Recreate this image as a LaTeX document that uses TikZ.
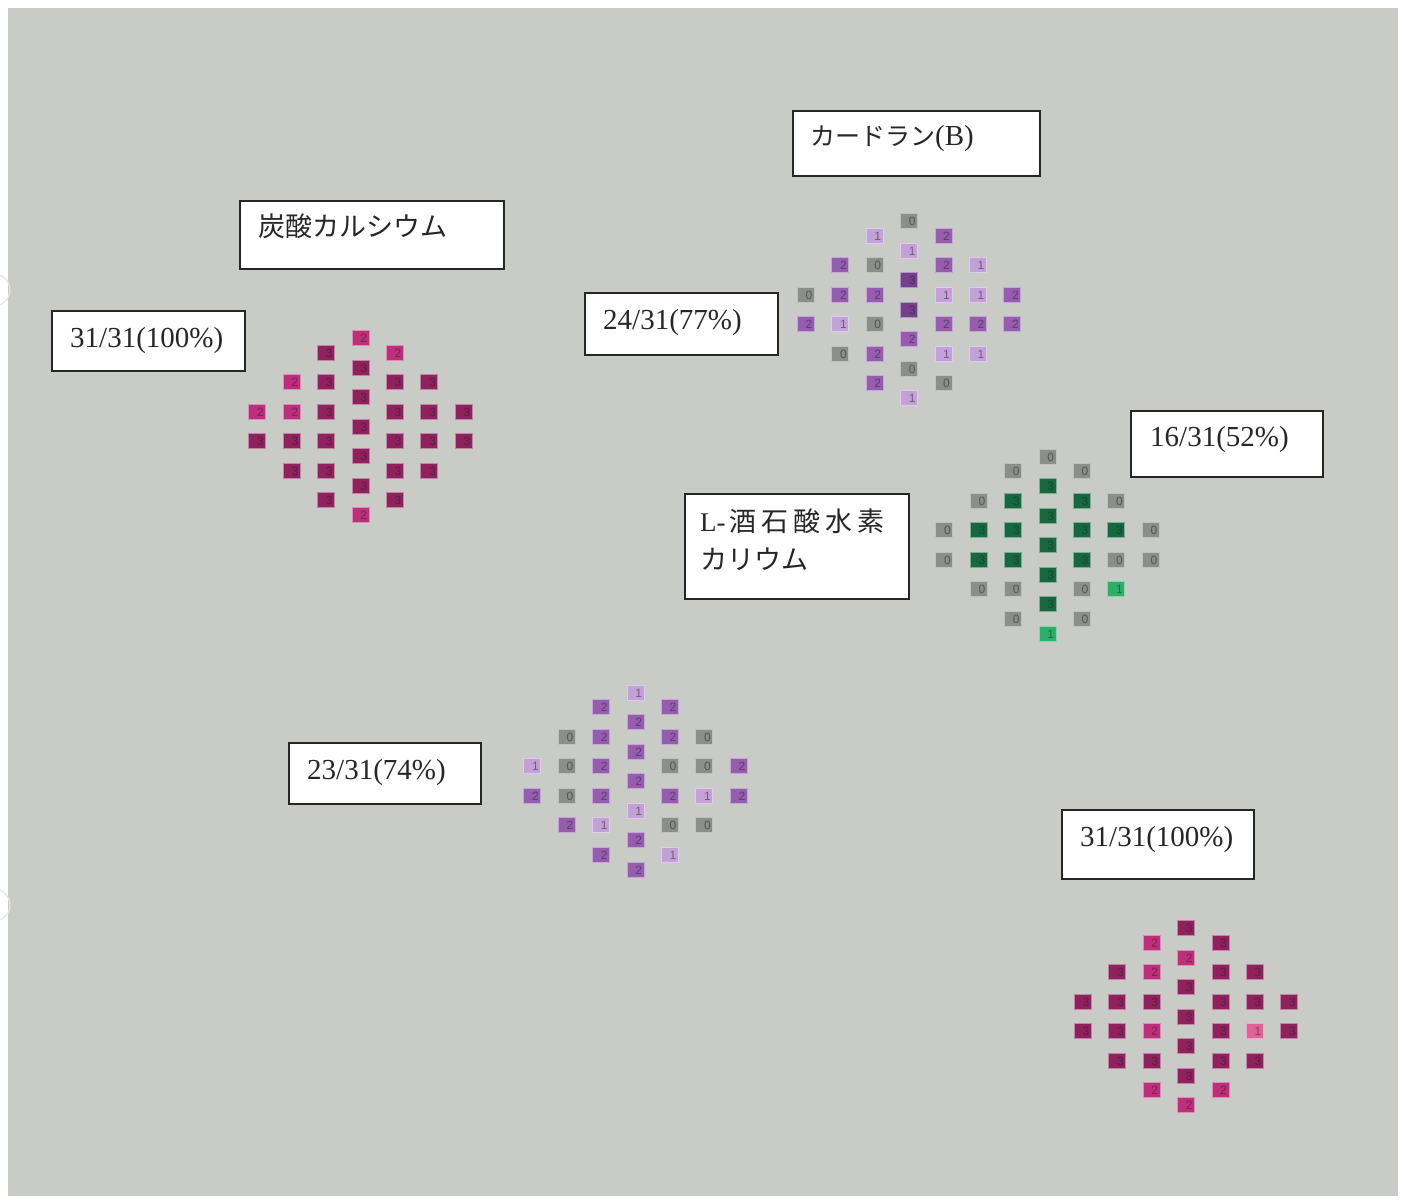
\documentclass[tikz,border=0pt]{standalone}
\usepackage{fontspec}
\setmainfont{Liberation Serif}
\newfontfamily\jp{Noto Sans CJK JP}
\newfontfamily\cellfont{Liberation Sans}
\definecolor{bg}{RGB}{201,203,199}
\definecolor{mag3}{RGB}{144,32,94}
\definecolor{mag2}{RGB}{190,46,122}
\definecolor{mag1}{RGB}{226,98,152}
\definecolor{pur3}{RGB}{118,62,140}
\definecolor{pur2}{RGB}{150,92,176}
\definecolor{pur1}{RGB}{196,160,216}
\definecolor{pur0}{RGB}{140,142,139}
\definecolor{grn3}{RGB}{22,104,62}
\definecolor{grn1}{RGB}{42,176,104}
\definecolor{grn0}{RGB}{140,142,139}
\tikzset{
  cell/.style={rectangle, fill=#1, draw=#1!55!white, line width=0.8pt,
    minimum width=17pt, minimum height=15pt, inner xsep=2pt, inner ysep=0pt,
    text width=13pt, align=right, text height=9pt, text depth=0pt,
    font=\cellfont\fontsize{12}{12}\selectfont, text=black!85, text opacity=0.55},
  lbox/.style={rectangle, draw=black!85, line width=1.8pt, fill=white, inner sep=0pt},
  ltext/.style={anchor=west, inner sep=0pt, font=\fontsize{29}{29}\selectfont, text=black!85},
}
\newcommand\cellcol[7]{%
  \foreach \v [count=\k from 0] in {#7} {
    \pgfmathsetmacro\xx{#2+(#4)*34.4}
    \pgfmathsetmacro\yy{#3+(\k-(#5-1)/2)*29.5}
    \node[cell=#6\v] (#1\k) at (\xx,\yy) {\v};
  }}
\begin{document}
\begin{tikzpicture}[x=1pt,y=-1pt]
\useasboundingbox (0,0) rectangle (1410,1199);
\clip (0,0) rectangle (1410,1199);
\fill[white] (0,0) rectangle (1410,1199);
\fill[bg] (8,8) rectangle (1398,1196);
\draw[white!80!gray, line width=1.2pt] (-6,290) circle (16);
\draw[white!80!gray, line width=1.2pt] (-6,905) circle (16);

% label boxes
\node[lbox, minimum width=264, minimum height=68] (b1) at (372,235) {};
\node[lbox, minimum width=193, minimum height=60] (b2) at (148.5,341) {};
\node[lbox, minimum width=247, minimum height=65] (b3) at (916.5,143.5) {};
\node[lbox, minimum width=193, minimum height=62] (b4) at (681.5,324) {};
\node[lbox, minimum width=192, minimum height=66] (b5) at (1227,444) {};
\node[lbox, minimum width=224, minimum height=105] (b6) at (797,546.5) {};
\node[lbox, minimum width=192, minimum height=61] (b7) at (385,773.5) {};
\node[lbox, minimum width=192, minimum height=69] (b8) at (1158,844.5) {};

\node[ltext, font=\jp\fontsize{27}{27}\selectfont] (t1) at (258,226) {炭酸カルシウム};
\node[ltext] (t2) at (70,341) {31/31(100\%)};
\node[ltext] (t3) at (810,139) {{\jp\fontsize{25}{25}\selectfont カードラン}(B)};
\node[ltext] (t4) at (603,323) {24/31(77\%)};
\node[ltext] (t5) at (1150,440) {16/31(52\%)};
\node[ltext, align=left, font=\fontsize{27}{38}\selectfont] (t6) at (700,540)
  {L-{\jp\hspace{4pt}酒\hspace{5pt}石\hspace{5pt}酸\hspace{5pt}水\hspace{5pt}素}\\{\jp カリウム}};
\node[ltext] (t7) at (307,773) {23/31(74\%)};
\node[ltext] (t8) at (1080,840) {31/31(100\%)};

% grid 1: calcium carbonate
\cellcol{g1a}{360.5}{426.5}{-3}{2}{mag}{2,3}
\cellcol{g1b}{360.5}{426.5}{-2}{4}{mag}{2,2,3,3}
\cellcol{g1c}{360.5}{426.5}{-1}{6}{mag}{3,3,3,3,3,3}
\cellcol{g1d}{360.5}{426.5}{0}{7}{mag}{2,3,3,3,3,3,2}
\cellcol{g1e}{360.5}{426.5}{1}{6}{mag}{2,3,3,3,3,3}
\cellcol{g1f}{360.5}{426.5}{2}{4}{mag}{3,3,3,3}
\cellcol{g1g}{360.5}{426.5}{3}{2}{mag}{3,3}

% grid 2: curdlan
\cellcol{g2a}{909}{309.5}{-3}{2}{pur}{0,2}
\cellcol{g2b}{909}{309.5}{-2}{4}{pur}{2,2,1,0}
\cellcol{g2c}{909}{309.5}{-1}{6}{pur}{1,0,2,0,2,2}
\cellcol{g2d}{909}{309.5}{0}{7}{pur}{0,1,3,3,2,0,1}
\cellcol{g2e}{909}{309.5}{1}{6}{pur}{2,2,1,2,1,0}
\cellcol{g2f}{909}{309.5}{2}{4}{pur}{1,1,2,1}
\cellcol{g2g}{909}{309.5}{3}{2}{pur}{2,2}

% grid 3: potassium hydrogen tartrate
\cellcol{g3a}{1047.5}{545}{-3}{2}{grn}{0,0}
\cellcol{g3b}{1047.5}{545}{-2}{4}{grn}{0,3,3,0}
\cellcol{g3c}{1047.5}{545}{-1}{6}{grn}{0,3,3,3,0,0}
\cellcol{g3d}{1047.5}{545}{0}{7}{grn}{0,3,3,3,3,3,1}
\cellcol{g3e}{1047.5}{545}{1}{6}{grn}{0,3,3,3,0,0}
\cellcol{g3f}{1047.5}{545}{2}{4}{grn}{0,3,0,1}
\cellcol{g3g}{1047.5}{545}{3}{2}{grn}{0,0}

% grid 4
\cellcol{g4a}{635.5}{781}{-3}{2}{pur}{1,2}
\cellcol{g4b}{635.5}{781}{-2}{4}{pur}{0,0,0,2}
\cellcol{g4c}{635.5}{781}{-1}{6}{pur}{2,2,2,2,1,2}
\cellcol{g4d}{635.5}{781}{0}{7}{pur}{1,2,2,2,1,2,2}
\cellcol{g4e}{635.5}{781}{1}{6}{pur}{2,2,0,2,0,1}
\cellcol{g4f}{635.5}{781}{2}{4}{pur}{0,0,1,0}
\cellcol{g4g}{635.5}{781}{3}{2}{pur}{2,2}

% grid 5
\cellcol{g5a}{1186}{1016.5}{-3}{2}{mag}{3,3}
\cellcol{g5b}{1186}{1016.5}{-2}{4}{mag}{3,3,3,3}
\cellcol{g5c}{1186}{1016.5}{-1}{6}{mag}{2,2,3,2,3,2}
\cellcol{g5d}{1186}{1016.5}{0}{7}{mag}{3,2,3,3,3,3,2}
\cellcol{g5e}{1186}{1016.5}{1}{6}{mag}{3,3,3,3,3,2}
\cellcol{g5f}{1186}{1016.5}{2}{4}{mag}{3,3,1,3}
\cellcol{g5g}{1186}{1016.5}{3}{2}{mag}{3,3}
\end{tikzpicture}
\end{document}
